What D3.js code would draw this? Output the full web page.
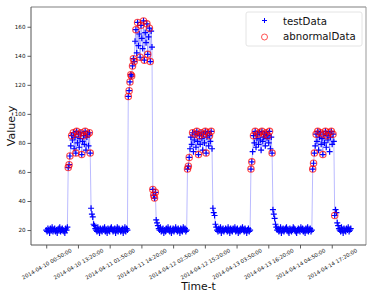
<!DOCTYPE html>
<html>
<head>
<meta charset="utf-8">
<script src="https://d3js.org/d3.v7.min.js"></script>
<style>
  body { margin: 0; background: #fff; }
  svg { display: block; font-family: "DejaVu Sans", sans-serif; }
</style>
</head>
<body>
<svg id="chart" width="374" height="299"></svg>
<script>
// one reading every 20 minutes, starting here
var startTime = "2014-04-10 00:50:00";
var stepMinutes = 20;

var testValues = [
  // 0-25 night
  20,19,21,20,18,21,20,22,19,20,21,19,20,18,20,21,22,19,20,21,20,19,18,21,20,22,
  // 26-52 day 1
  63,65,71,78,85,82,87,76,84,73,88,80,86,77,83,87,72,81,85,79,88,75,84,86,78,87,73,
  // 53-57
  35,31,29,24,23,
  // 58-96
  21,20,19,22,20,18,21,20,19,21,20,22,19,20,18,21,20,19,21,22,20,19,20,21,18,20,22,19,21,20,19,20,21,18,20,22,19,21,20,
  // 97-104 rise day 2
  112,116,122,127,126,133,138,136,
  // 105-125
  150,158,142,163,147,155,139,161,152,145,164,137,156,149,162,141,153,159,136,157,146,
  // 126-132
  48,44,42,46,27,25,23,
  // 133-166
  21,20,22,19,20,21,18,20,19,21,20,22,20,19,21,18,20,21,19,20,22,20,19,21,20,18,21,20,19,22,20,21,19,20,
  // 167-170
  62,64,70,76,
  // 171-196 day 3
  84,79,87,74,82,86,77,88,81,72,85,79,87,83,75,86,80,88,73,84,87,78,85,81,88,76,
  // 197-201
  35,32,30,24,22,
  // 202-241
  20,19,21,20,22,18,20,21,19,20,21,20,19,22,20,18,21,20,19,21,20,22,19,20,21,18,20,19,21,20,22,20,19,21,20,18,20,21,19,20,
  // 242-244
  62,67,74,
  // 245-267 day 4
  85,80,88,77,83,86,79,87,82,75,88,81,84,86,78,87,83,85,80,88,76,84,73,
  // 268-272
  34,31,28,24,22,
  // 273-314
  20,21,19,20,22,18,20,21,19,20,21,22,20,19,18,21,20,19,20,22,21,20,19,18,20,21,20,19,22,20,21,19,20,18,21,20,22,19,20,21,19,20,
  // 315-317
  62,66,73,
  // 318-340 day 5
  78,86,81,88,75,84,87,79,83,72,86,80,88,77,85,82,87,74,84,88,79,86,81,
  // 341-345
  30,34,32,25,23,
  // 346-360
  21,20,19,22,20,18,21,20,19,21,20,22,19,20,21
];

// indices of testValues flagged as abnormal
var abnormalIdx = [
  26,27,28,30,32,35,36,38,41,42,44,46,49,51,52,
  97,98,99,100,101,102,103,104,106,108,111,112,115,116,119,120,122,123,
  126,127,128,129,
  167,168,169,173,176,178,180,181,183,186,188,189,191,193,195,
  242,243,245,247,250,252,255,258,260,262,264,267,
  315,316,317,319,321,324,327,328,330,332,334,337,339,
  341
];

var xTickLabels = [
  "2014-04-10 00:50:00", "2014-04-10 13:20:00", "2014-04-11 01:50:00",
  "2014-04-11 14:20:00", "2014-04-12 02:50:00", "2014-04-12 15:20:00",
  "2014-04-13 03:50:00", "2014-04-13 16:20:00", "2014-04-14 04:50:00",
  "2014-04-14 17:20:00"
];
var yTicks = [20, 40, 60, 80, 100, 120, 140, 160];

var parse = d3.timeParse("%Y-%m-%d %H:%M:%S");
var fmt = d3.timeFormat("%Y-%m-%d %H:%M:%S");
var t0 = parse(startTime);

var points = testValues.map(function (v, i) {
  return { t: d3.timeMinute.offset(t0, i * stepMinutes), v: v };
});
var abnormal = abnormalIdx.map(function (i) { return points[i]; });

var plotL = 31, plotR = 366, plotT = 7, plotB = 245;

var tMin = points[0].t, tMax = points[points.length - 1].t;
var pad = (tMax - tMin) * 0.05;
var x = d3.scaleTime()
    .domain([new Date(+tMin - pad), new Date(+tMax + pad)])
    .range([plotL, plotR]);
var y = d3.scaleLinear().domain([9.7, 173.6]).range([plotB, plotT]);

var svg = d3.select("#chart");
var cross = "M-3,0H3M0,-3V3";

// data line
var line = d3.line().x(function (d) { return x(d.t); }).y(function (d) { return y(d.v); });
svg.append("path")
    .datum(points)
    .attr("d", line)
    .attr("fill", "none")
    .attr("stroke", "#0000ff")
    .attr("stroke-opacity", 0.3)
    .attr("stroke-width", 0.9);

// testData markers (+)
svg.append("g").selectAll("path")
    .data(points)
    .enter().append("path")
    .attr("transform", function (d) { return "translate(" + x(d.t) + "," + y(d.v) + ")"; })
    .attr("d", cross)
    .attr("stroke", "#0000ff")
    .attr("stroke-width", 1.2);

// abnormalData markers (o)
svg.append("g").selectAll("circle")
    .data(abnormal)
    .enter().append("circle")
    .attr("cx", function (d) { return x(d.t); })
    .attr("cy", function (d) { return y(d.v); })
    .attr("r", 3.2)
    .attr("fill", "none")
    .attr("stroke", "#ff0000")
    .attr("stroke-opacity", 0.7)
    .attr("stroke-width", 1.1);

// axes
var yAxis = svg.append("g")
    .attr("transform", "translate(" + plotL + ",0)")
    .call(d3.axisLeft(y).tickValues(yTicks).tickSize(3.5).tickPadding(2));
yAxis.select(".domain").remove();
yAxis.selectAll("line").attr("stroke", "#333").attr("stroke-width", 0.8);
yAxis.selectAll("text").attr("font-size", 5.6).attr("fill", "#111")
    .attr("font-family", "DejaVu Sans");

var xAxis = svg.append("g")
    .attr("transform", "translate(0," + plotB + ")")
    .call(d3.axisBottom(x).tickValues(xTickLabels.map(parse)).tickFormat(fmt).tickSize(3.5));
xAxis.select(".domain").remove();
xAxis.selectAll("line").attr("stroke", "#333").attr("stroke-width", 0.8);
xAxis.selectAll("text")
    .attr("y", 0).attr("dy", null)
    .attr("font-size", 5.3).attr("fill", "#111")
    .attr("font-family", "DejaVu Sans")
    .attr("text-anchor", "middle")
    .attr("dominant-baseline", "central")
    .attr("transform", "translate(0,19) rotate(-30)");

// frame
svg.append("line").attr("x1", plotL).attr("x2", plotR).attr("y1", plotT).attr("y2", plotT)
    .attr("stroke", "#aaa").attr("stroke-width", 1.5);
svg.append("line").attr("x1", plotR).attr("x2", plotR).attr("y1", plotT).attr("y2", plotB)
    .attr("stroke", "#999").attr("stroke-width", 1);
svg.append("line").attr("x1", plotL).attr("x2", plotL).attr("y1", plotT).attr("y2", plotB)
    .attr("stroke", "#555").attr("stroke-width", 1);
svg.append("line").attr("x1", plotL).attr("x2", plotR).attr("y1", plotB).attr("y2", plotB)
    .attr("stroke", "#555").attr("stroke-width", 1);

// axis titles
svg.append("text")
    .attr("transform", "translate(15,126) rotate(-90)")
    .attr("text-anchor", "middle")
    .attr("font-size", 11)
    .attr("fill", "#111")
    .text("Value-y");
svg.append("text")
    .attr("x", (plotL + plotR) / 2).attr("y", 290)
    .attr("text-anchor", "middle")
    .attr("font-size", 10.8)
    .attr("fill", "#111")
    .text("Time-t");

// legend
var lg = svg.append("g");
lg.append("rect")
    .attr("x", 246).attr("y", 12).attr("width", 116).attr("height", 34)
    .attr("rx", 2).attr("fill", "#fff").attr("fill-opacity", 0.85)
    .attr("stroke", "#ddd").attr("stroke-width", 0.8);
lg.append("path")
    .attr("transform", "translate(264.5,20.5)")
    .attr("d", "M-2.5,0H2.5M0,-2.5V2.5")
    .attr("stroke", "#0000ff").attr("stroke-width", 1);
lg.append("circle")
    .attr("cx", 264.5).attr("cy", 37).attr("r", 3)
    .attr("fill", "none").attr("stroke", "#ff0000")
    .attr("stroke-opacity", 0.75).attr("stroke-width", 0.9);
lg.selectAll("text.lab")
    .data(["testData", "abnormalData"])
    .enter().append("text")
    .attr("class", "lab")
    .attr("x", 283)
    .attr("y", function (d, i) { return 24.5 + i * 15.5; })
    .attr("font-size", 10.2)
    .attr("fill", "#111")
    .text(function (d) { return d; });
</script>
</body>
</html>
